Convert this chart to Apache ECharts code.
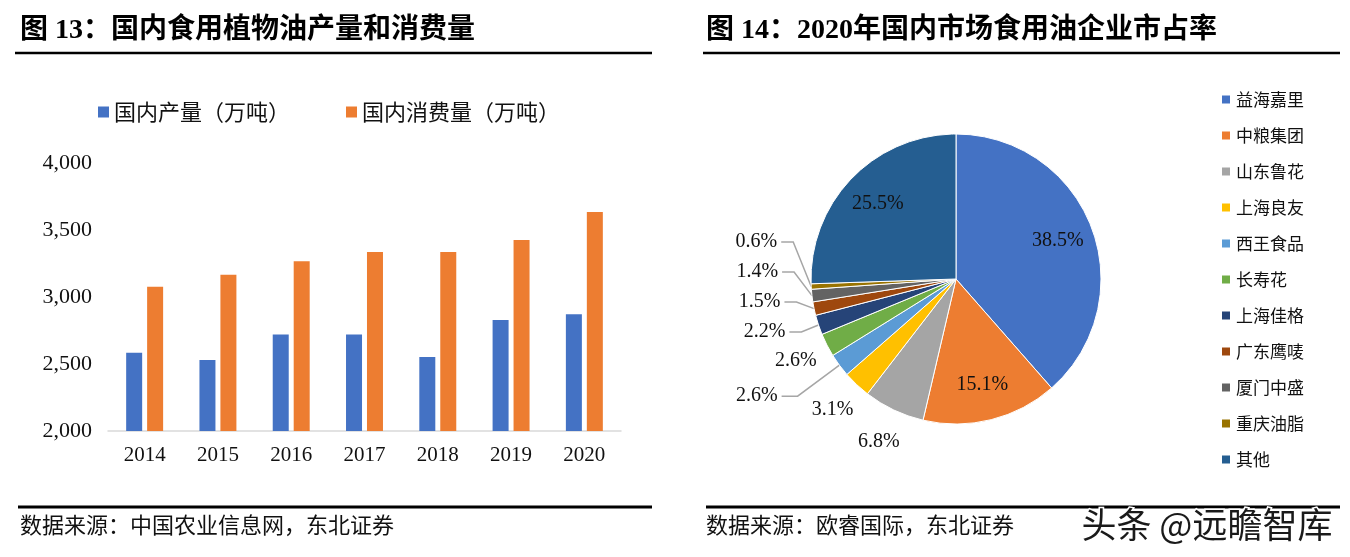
<!DOCTYPE html>
<html><head><meta charset="utf-8">
<script src="https://cdn.jsdelivr.net/npm/echarts@6/dist/echarts.min.js"></script>
<style>html,body{margin:0;padding:0;background:#fff}#c{width:1350px;height:557px}</style>
</head><body><div id="c"></div>
<script>
// ---- bar chart data ----
const years = ['2014', '2015', '2016', '2017', '2018', '2019', '2020'];
const productionName = '国内产量（万吨）';
const consumptionName = '国内消费量（万吨）';
const production = [2584, 2530, 2721, 2721, 2552, 2828, 2871];
const consumption = [3077, 3166, 3266, 3335, 3335, 3425, 3634];
const yAxisMin = 2000, yAxisMax = 4000, yAxisStep = 500;

// ---- pie chart data ----
const companies = ['益海嘉里', '中粮集团', '山东鲁花', '上海良友', '西王食品', '长寿花', '上海佳格', '广东鹰唛', '厦门中盛', '重庆油脂', '其他'];
const shares = [38.5, 15.1, 6.8, 3.1, 2.6, 2.6, 2.2, 1.5, 1.4, 0.6, 25.5];

// ---- texts ----
const leftTitle = '图 13：国内食用植物油产量和消费量';
const rightTitle = '图 14：2020年国内市场食用油企业市占率';
const leftSource = '数据来源：中国农业信息网，东北证券';
const rightSource = '数据来源：欧睿国际，东北证券';
const watermark = '头条 @远瞻智库';

// ---- styles ----
const companyColors = ['#4472C4', '#ED7D31', '#A5A5A5', '#FFC000', '#5B9BD5', '#70AD47', '#264478', '#9E480E', '#636363', '#997300', '#255E91'];
// how each slice's value label is drawn
const labelKind = ['in', 'in', 'ring', 'ring', 'lead', 'ring', 'stack', 'stack', 'stack', 'stack', 'in'];
const SERIF = '"Liberation Serif", "Times New Roman", "Noto Sans CJK SC", serif';
const CJK = '"Noto Sans CJK SC", sans-serif';
const TXT = '#111';
const PIE_CENTER = [956, 279];
const PIE_R = 145;
const LINE_STYLE = { color: '#A6A6A6', width: 1.5 };

const pctFmt = p => p.value.toFixed(1) + '%';
const pieData = (kind, extra) => companies.map((n, i) => Object.assign({
  name: n, value: shares[i],
  label: { show: labelKind[i] === kind },
  labelLine: { show: labelKind[i] === kind }
}, extra ? extra(i) : {}));

const ghostPie = (name, radius, kind, label, labelLine) => ({
  type: 'pie', name, center: PIE_CENTER, radius,
  startAngle: 90, clockwise: true, avoidLabelOverlap: false, silent: true,
  emphasis: { disabled: true }, tooltip: { show: false },
  itemStyle: { color: 'rgba(0,0,0,0)', borderWidth: 0 },
  label: Object.assign({ fontFamily: SERIF, fontSize: 20, color: TXT, formatter: pctFmt }, label),
  labelLine: labelLine || { show: false },
  data: pieData(kind)
});

const chart = echarts.init(document.getElementById('c'), null, { renderer: 'canvas' });
chart.setOption({
  animation: false,
  backgroundColor: '#fff',
  legend: [{
    data: [productionName, consumptionName],
    left: 98, top: 101, padding: 0,
    itemWidth: 11, itemHeight: 11, itemGap: 56, icon: 'rect',
    textStyle: { fontFamily: CJK, fontSize: 22, color: TXT }
  }, {
    data: companies,
    orient: 'vertical', left: 1220, top: 91, padding: 0,
    itemWidth: 10, itemHeight: 10, itemGap: 19, icon: 'rect',
    textStyle: { fontFamily: CJK, fontSize: 17, color: TXT, lineHeight: 17 }
  }],
  grid: { left: 108, top: 163, width: 513, height: 268 },
  xAxis: {
    type: 'category', data: years,
    axisLine: { lineStyle: { color: '#D9D9D9', width: 1.5 } },
    axisTick: { show: false },
    axisLabel: { fontFamily: SERIF, fontSize: 21, color: TXT, margin: 14 }
  },
  yAxis: {
    type: 'value', min: yAxisMin, max: yAxisMax, interval: yAxisStep,
    axisLine: { show: false }, axisTick: { show: false },
    splitLine: { show: false },
    axisLabel: { fontFamily: SERIF, fontSize: 22, color: TXT, margin: 16,
      formatter: v => v.toLocaleString('en-US') }
  },
  series: [
    { type: 'bar', name: productionName, data: production, barWidth: 16, barGap: '31%',
      itemStyle: { color: '#4472C4' } },
    { type: 'bar', name: consumptionName, data: consumption, barWidth: 16, barGap: '31%',
      itemStyle: { color: '#ED7D31' } },
    {
      // the pie itself; its layout box bottom bounds the stacked small labels
      type: 'pie', name: 'share', left: 0, top: 0, width: 1350, height: 347,
      center: PIE_CENTER, radius: [0, PIE_R],
      startAngle: 90, clockwise: true, avoidLabelOverlap: true,
      emphasis: { disabled: true },
      itemStyle: { borderColor: '#fff', borderWidth: 1 },
      label: { position: 'outside', fontFamily: SERIF, fontSize: 20, color: TXT, lineHeight: 20,
        formatter: pctFmt, alignTo: 'labelLine', distanceToLabelLine: 4, padding: [0, 0, 8, 0] },
      labelLine: { length: 18, length2: 12, lineStyle: LINE_STYLE },
      data: pieData('stack', i => ({ itemStyle: { color: companyColors[i] } }))
    },
    ghostPie('share-in', [PIE_R * 0.46, PIE_R], 'in', { position: 'inside' }),
    ghostPie('share-ring', [PIE_R + 3, PIE_R + 61], 'ring', { position: 'inside' }),
    ghostPie('share-lead', [0, PIE_R], 'lead',
      { position: 'outside', distanceToLabelLine: 4, padding: [0, 0, 10, 0] },
      { show: true, length: 52, length2: 16, lineStyle: LINE_STYLE })
  ],
  graphic: [
    { type: 'text', left: 20, top: 17, style: { text: leftTitle, font: 'bold 28px ' + SERIF, fill: '#000' } },
    { type: 'text', left: 706, top: 17, style: { text: rightTitle, font: 'bold 28px ' + SERIF, fill: '#000' } },
    { type: 'line', shape: { x1: 15, y1: 53, x2: 652, y2: 53 }, style: { stroke: '#000', lineWidth: 2.5 } },
    { type: 'line', shape: { x1: 703, y1: 53, x2: 1340, y2: 53 }, style: { stroke: '#000', lineWidth: 2.5 } },
    { type: 'line', shape: { x1: 18, y1: 507, x2: 652, y2: 507 }, style: { stroke: '#000', lineWidth: 3 } },
    { type: 'line', shape: { x1: 706, y1: 507, x2: 1340, y2: 507 }, style: { stroke: '#000', lineWidth: 3 } },
    { type: 'text', left: 20, top: 514, style: { text: leftSource, font: '22px ' + CJK, fill: TXT } },
    { type: 'text', left: 706, top: 514, style: { text: rightSource, font: '22px ' + CJK, fill: TXT } },
    { type: 'text', left: 1080, top: 506, z: 100, style: { text: watermark, font: '35px ' + CJK, fill: '#1a1a1a', stroke: '#fff', lineWidth: 3 } }
  ]
});
</script>
</body></html>
